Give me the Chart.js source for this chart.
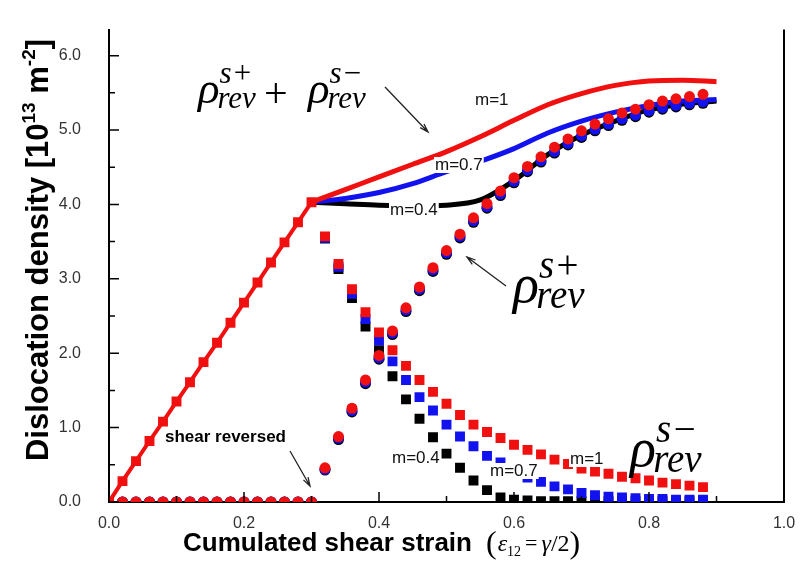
<!DOCTYPE html>
<html>
<head>
<meta charset="utf-8">
<script src="https://cdn.jsdelivr.net/npm/chart.js@4.4.0/dist/chart.umd.min.js"></script>
<style>
  html, body { margin: 0; padding: 0; background: #fff; }
</style>
</head>
<body>
<canvas id="chart" width="803" height="578"></canvas>
<script>
// ---- data ----
const xTicks = [0, 0.2, 0.4, 0.6, 0.8, 1.0];
const yTicks = [0, 1, 2, 3, 4, 5, 6];
const xMinor = [0.1, 0.3, 0.5, 0.7, 0.9];
const yMinor = [0.5, 1.5, 2.5, 3.5, 4.5, 5.5];

// loading (before shear reversal)
const loadX = [0, 0.02, 0.04, 0.06, 0.08, 0.10, 0.12, 0.14, 0.16, 0.18, 0.20, 0.22, 0.24, 0.26, 0.28, 0.30];
const loadY = [0, 0.28, 0.55, 0.82, 1.08, 1.35, 1.61, 1.88, 2.14, 2.41, 2.68, 2.95, 3.22, 3.49, 3.76, 4.03];

// rho+ (circles)
const plusX = [0.02, 0.04, 0.06, 0.08, 0.10, 0.12, 0.14, 0.16, 0.18, 0.20, 0.22, 0.24, 0.26, 0.28, 0.30,
  0.32, 0.34, 0.36, 0.38, 0.40, 0.42, 0.44, 0.46, 0.48, 0.50, 0.52, 0.54, 0.56, 0.58, 0.60,
  0.62, 0.64, 0.66, 0.68, 0.70, 0.72, 0.74, 0.76, 0.78, 0.80, 0.82, 0.84, 0.86, 0.88];
const plusM1 = [0, 0, 0, 0, 0, 0, 0, 0, 0, 0, 0, 0, 0, 0, 0,
  0.46, 0.88, 1.26, 1.64, 1.97, 2.30, 2.61, 2.89, 3.15, 3.38, 3.60, 3.82, 4.01, 4.18, 4.36,
  4.51, 4.64, 4.77, 4.88, 4.99, 5.08, 5.15, 5.23, 5.28, 5.34, 5.39, 5.42, 5.45, 5.48];
const plusM07 = [0, 0, 0, 0, 0, 0, 0, 0, 0, 0, 0, 0, 0, 0, 0,
  0.44, 0.86, 1.23, 1.61, 1.94, 2.27, 2.58, 2.86, 3.12, 3.35, 3.57, 3.78, 3.97, 4.14, 4.31,
  4.46, 4.59, 4.71, 4.82, 4.92, 5.01, 5.08, 5.15, 5.20, 5.26, 5.30, 5.33, 5.36, 5.38];
const plusM04 = [0, 0, 0, 0, 0, 0, 0, 0, 0, 0, 0, 0, 0, 0, 0,
  0.43, 0.84, 1.21, 1.59, 1.92, 2.25, 2.56, 2.84, 3.10, 3.33, 3.55, 3.76, 3.95, 4.12, 4.29,
  4.44, 4.57, 4.69, 4.80, 4.90, 4.99, 5.06, 5.13, 5.18, 5.24, 5.28, 5.31, 5.34, 5.36];

// rho- (squares) after reversal
const minusX = [0.32, 0.34, 0.36, 0.38, 0.40, 0.42, 0.44, 0.46, 0.48, 0.50, 0.52, 0.54, 0.56, 0.58, 0.60,
  0.62, 0.64, 0.66, 0.68, 0.70, 0.72, 0.74, 0.76, 0.78, 0.80, 0.82, 0.84, 0.86, 0.88];
const minusM1 = [3.57, 3.20, 2.86, 2.55, 2.28, 2.04, 1.83, 1.64, 1.48, 1.32, 1.17, 1.04, 0.94, 0.86, 0.77,
  0.70, 0.64, 0.57, 0.51, 0.45, 0.41, 0.38, 0.34, 0.32, 0.29, 0.26, 0.24, 0.22, 0.20];
const minusM07 = [3.55, 3.16, 2.80, 2.46, 2.17, 1.89, 1.64, 1.41, 1.23, 1.04, 0.88, 0.75, 0.62, 0.53, 0.42,
  0.33, 0.27, 0.21, 0.17, 0.12, 0.09, 0.07, 0.06, 0.05, 0.04, 0.04, 0.03, 0.03, 0.03];
const minusM04 = [3.54, 3.13, 2.74, 2.36, 2.04, 1.69, 1.38, 1.12, 0.87, 0.65, 0.46, 0.29, 0.16, 0.06, 0.03,
  0.02, 0.01, 0.01, 0.01, 0.01, 0.01, 0.01, 0.01, 0.01, 0.01, 0.01, 0.01, 0.01, 0.01];

// rho+ + rho- (curves)
const sumX = [0.30, 0.35, 0.40, 0.45, 0.50, 0.55, 0.60, 0.65, 0.70, 0.75, 0.80, 0.85, 0.90];
const sumM1 = [4.03, 4.20, 4.37, 4.54, 4.71, 4.91, 5.13, 5.34, 5.49, 5.60, 5.66, 5.67, 5.65];
const sumM07 = [4.03, 4.08, 4.16, 4.28, 4.44, 4.58, 4.75, 4.96, 5.12, 5.24, 5.33, 5.39, 5.41];
const sumM04 = [4.03, 4.01, 3.99, 3.98, 3.99, 4.06, 4.32, 4.67, 4.93, 5.12, 5.27, 5.35, 5.39];

const RED = '#f01010';
const BLUE = '#1212ee';
const BLACK = '#000000';

function pts(xs, ys) {
  return xs.map((x, i) => ({ x: x, y: ys[i] }));
}

function curve(xs, ys, color, order) {
  return {
    data: pts(xs, ys), showLine: true, borderColor: color, borderWidth: 5,
    pointRadius: 0, cubicInterpolationMode: 'monotone', order: order, clip: 0
  };
}

function marks(xs, ys, color, style, r, order) {
  return {
    data: pts(xs, ys), showLine: false, pointStyle: style, pointRadius: r,
    backgroundColor: color, borderColor: color, borderWidth: 0, order: order, clip: 0
  };
}

// ---- drawing helpers ----
function arrow(ctx, x1, y1, x2, y2) {
  const a = Math.atan2(y2 - y1, x2 - x1), h = 9;
  ctx.beginPath();
  ctx.moveTo(x1, y1);
  ctx.lineTo(x2, y2);
  ctx.moveTo(x2 - h * Math.cos(a - 0.3), y2 - h * Math.sin(a - 0.3));
  ctx.lineTo(x2, y2);
  ctx.lineTo(x2 - h * Math.cos(a + 0.3), y2 - h * Math.sin(a + 0.3));
  ctx.stroke();
}

function runs(ctx, list, x, y, measureOnly) {
  let cx = x;
  for (const r of list) {
    ctx.font = r[1];
    if (!measureOnly) ctx.fillText(r[0], cx, y + (r[2] || 0));
    cx += ctx.measureText(r[0]).width + (r[3] || 0);
  }
  return cx - x;
}

function rho(ctx, x, y, sup, size, k) {
  const s2 = Math.round(size * (k || 0.68));
  ctx.font = 'italic ' + size + 'px "Liberation Serif"';
  ctx.fillText('\u03c1', x, y);
  const w = ctx.measureText('\u03c1').width;
  ctx.font = 'italic ' + s2 + 'px "Liberation Serif"';
  ctx.fillText(sup, x + w * 1.0, y - size * 0.45);
  ctx.fillText('rev', x + w * 0.9, y + size * 0.12);
}

function mLabel(ctx, text, x, y) {
  ctx.font = '17px "Liberation Sans"';
  const w = ctx.measureText(text).width;
  ctx.fillStyle = '#fff';
  ctx.fillRect(x - 1, y - 13, w + 2, 16);
  ctx.fillStyle = '#111';
  ctx.fillText(text, x, y);
}

const decor = {
  id: 'decor',
  afterDatasetsDraw(chart) {
    const ctx = chart.ctx, a = chart.chartArea;
    const xs = chart.scales.x, ys = chart.scales.y;
    ctx.save();
    ctx.strokeStyle = '#000';
    // right frame line
    ctx.lineWidth = 2;
    ctx.beginPath();
    ctx.moveTo(a.right, a.top);
    ctx.lineTo(a.right, a.bottom + 1);
    ctx.stroke();
    // inward tick marks
    ctx.lineWidth = 1.5;
    ctx.beginPath();
    xTicks.forEach(v => { const p = xs.getPixelForValue(v); ctx.moveTo(p, a.bottom); ctx.lineTo(p, a.bottom - 10); });
    xMinor.forEach(v => { const p = xs.getPixelForValue(v); ctx.moveTo(p, a.bottom); ctx.lineTo(p, a.bottom - 6); });
    yTicks.forEach(v => { const p = ys.getPixelForValue(v); ctx.moveTo(a.left, p); ctx.lineTo(a.left + 10, p); });
    yMinor.forEach(v => { const p = ys.getPixelForValue(v); ctx.moveTo(a.left, p); ctx.lineTo(a.left + 6, p); });
    ctx.stroke();

    // curve labels
    ctx.textBaseline = 'alphabetic';
    mLabel(ctx, 'm=1', 475, 105);
    mLabel(ctx, 'm=0.7', 435, 170);
    mLabel(ctx, 'm=0.4', 390, 215);
    mLabel(ctx, 'm=0.4', 392, 463);
    mLabel(ctx, 'm=0.7', 490, 476);
    mLabel(ctx, 'm=1', 570, 464);

    ctx.fillStyle = '#000';
    ctx.font = 'bold 17px "Liberation Sans"';
    ctx.fillText('shear reversed', 165, 442);

    // formulas
    rho(ctx, 198, 103, 's+', 45, 0.7);
    ctx.font = '42px "Liberation Serif"';
    ctx.fillText('+', 264, 107);
    rho(ctx, 308, 103, 's\u2212', 45, 0.7);
    rho(ctx, 513, 302, 's+', 54, 0.72);
    rho(ctx, 630, 466, 's\u2212', 54, 0.72);

    // arrows
    ctx.strokeStyle = '#222';
    ctx.lineWidth = 1.3;
    arrow(ctx, 385, 87, 428, 132);
    arrow(ctx, 506, 286, 467, 257);
    arrow(ctx, 290, 451, 310, 486);

    // axis titles
    ctx.fillStyle = '#000';
    const xt = [
      ['Cumulated shear strain', 'bold 26px "Liberation Sans"', 0, 14],
      ['(', '32px "Liberation Serif"', 2, 1],
      ['\u03b5', 'italic 24px "Liberation Serif"', 0],
      ['12', '14px "Liberation Serif"', 5, 4],
      ['=', '22px "Liberation Serif"', -1, 4],
      ['\u03b3', 'italic 24px "Liberation Serif"', 0],
      ['/2', '24px "Liberation Serif"', 0],
      [')', '32px "Liberation Serif"', 2]
    ];
    runs(ctx, xt, 183, 551);

    const yt = [
      ['Dislocation density [10', 'bold 31px "Liberation Sans"', 0],
      ['13', 'bold 19px "Liberation Sans"', -13],
      [' m', 'bold 31px "Liberation Sans"', 0],
      ['-2', 'bold 19px "Liberation Sans"', -13],
      [']', 'bold 31px "Liberation Sans"', 0]
    ];
    ctx.translate(48, 250);
    ctx.rotate(-Math.PI / 2);
    const w = runs(ctx, yt, 0, 0, true);
    runs(ctx, yt, -w / 2, 0);
    ctx.restore();
  }
};

new Chart(document.getElementById('chart').getContext('2d'), {
  type: 'scatter',
  data: {
    datasets: [
      marks(plusX, plusM1, RED, 'circle', 5.5, 0),
      marks(plusX, plusM07, BLUE, 'circle', 5.5, 1),
      marks(plusX, plusM04, BLACK, 'circle', 5.5, 2),
      marks(minusX, minusM1, RED, 'rect', 7, 3),
      marks(minusX, minusM07, BLUE, 'rect', 7, 4),
      marks(minusX, minusM04, BLACK, 'rect', 7, 5),
      {
        data: pts(loadX, loadY), showLine: true, borderColor: RED, borderWidth: 4,
        pointStyle: 'rect', pointRadius: 7, backgroundColor: RED, pointBorderWidth: 0,
        order: 6, clip: 0
      },
      curve(sumX, sumM1, RED, 7),
      curve(sumX, sumM07, BLUE, 8),
      curve(sumX, sumM04, BLACK, 9)
    ]
  },
  options: {
    responsive: false,
    animation: false,
    layout: { padding: { top: 18, right: 19, left: 0, bottom: 0 } },
    plugins: { legend: { display: false }, tooltip: { enabled: false } },
    scales: {
      x: {
        type: 'linear', min: 0, max: 1,
        afterBuildTicks: s => { s.ticks = xTicks.map(v => ({ value: v })); },
        afterFit: s => { s.height = 76; },
        grid: { display: false },
        border: { display: true, color: '#000', width: 2 },
        ticks: {
          callback: v => v.toFixed(1), autoSkip: false, maxRotation: 0,
          padding: 4, color: '#333', font: { family: 'Liberation Sans', size: 16 }
        }
      },
      y: {
        type: 'linear', min: 0, max: 6.35,
        afterBuildTicks: s => { s.ticks = yTicks.map(v => ({ value: v })); },
        afterFit: s => { s.width = 109; },
        grid: { display: false },
        border: { display: true, color: '#000', width: 2 },
        ticks: {
          callback: v => v.toFixed(1), padding: 20, color: '#333',
          font: { family: 'Liberation Sans', size: 16 }
        }
      }
    }
  },
  plugins: [decor]
});
</script>
</body>
</html>
